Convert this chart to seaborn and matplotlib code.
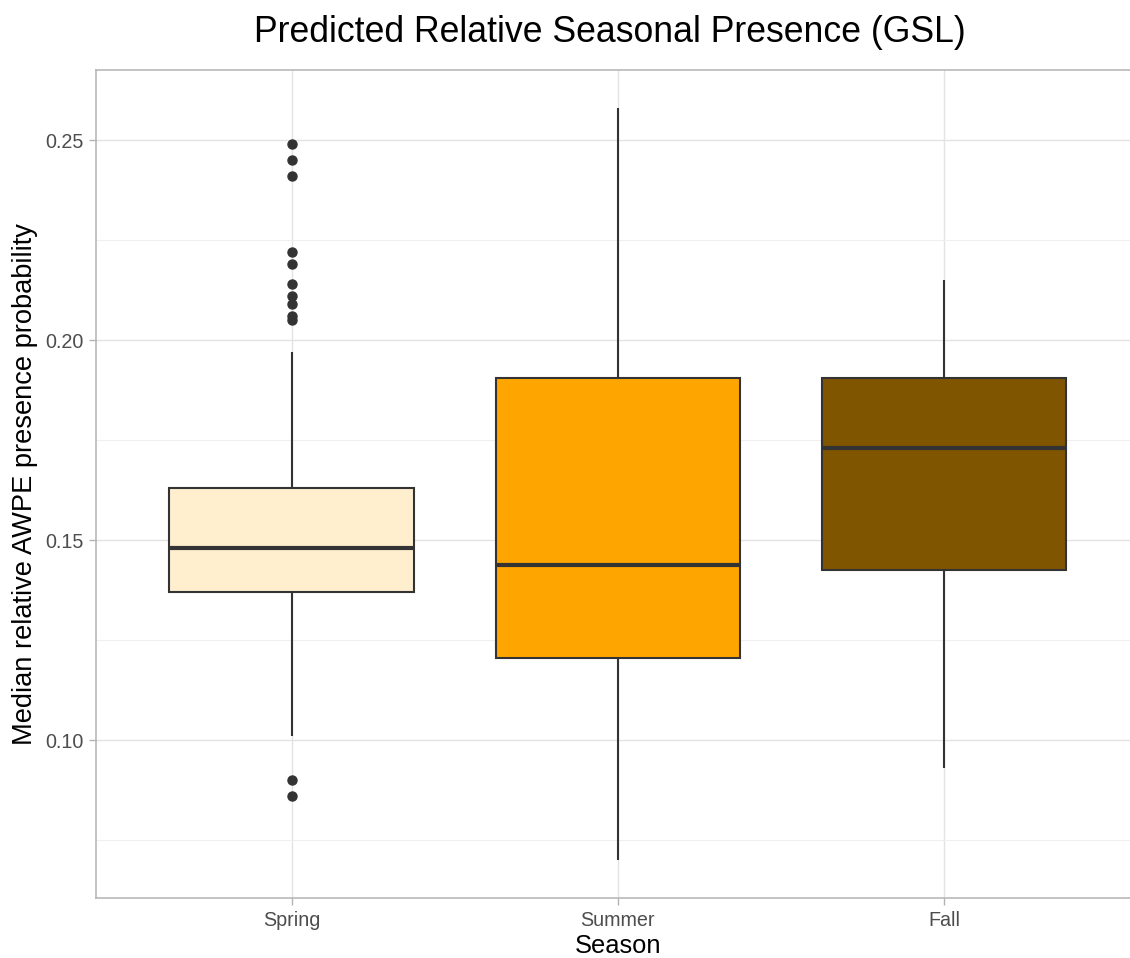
import pandas as pd
import matplotlib
matplotlib.use("Agg")
import matplotlib.pyplot as plt
from matplotlib.ticker import MultipleLocator
import seaborn as sns

# =========================
# DADOS
# =========================
seasons = ["Spring", "Summer", "Fall"]
colors = ["#FFEFCF", "#FFA500", "#7F5500"]

# quartis: q1, mediana, q3
spring_box = [0.137, 0.148, 0.163]
summer_box = [0.1207, 0.1439, 0.1906]
fall_box = [0.1427, 0.1731, 0.1906]

# extremos dos bigodes: inferior, superior
spring_whisk = [0.101, 0.197]
summer_whisk = [0.070, 0.2582]
fall_whisk = [0.093, 0.2151]

# outliers
spring_out = [0.086, 0.090, 0.2052, 0.2061, 0.2090, 0.2111, 0.2140,
              0.2191, 0.2220, 0.2411, 0.2451, 0.2491]
summer_out = []
fall_out = []


def expand(box, whisk, out, reps=20):
    # observações que reproduzem os quartis / bigodes / outliers lidos
    vals = list(out) + list(whisk)
    for v in box:
        vals += [v] * reps
    return vals


rows = []
for name, box, whisk, out in zip(seasons,
                                 [spring_box, summer_box, fall_box],
                                 [spring_whisk, summer_whisk, fall_whisk],
                                 [spring_out, summer_out, fall_out]):
    for v in expand(box, whisk, out):
        rows.append({"Season": name, "value": v})
df = pd.DataFrame(rows)

# =========================
# FIGURA
# =========================
sns.set_theme(style="whitegrid")
plt.rcParams["font.family"] = ["Liberation Sans", "DejaVu Sans"]

W, H = 1130, 958
fig = plt.figure(figsize=(W / 100, H / 100), dpi=100)
ax = fig.add_axes([96 / W, 60 / H, (1139.6 - 96) / W, (898 - 70) / H])

line_c = "#333333"
sns.boxplot(data=df, x="Season", y="value", hue="Season", order=seasons,
            hue_order=seasons, palette=colors, legend=False, width=0.75,
            linewidth=1.5, linecolor=line_c, showcaps=False, saturation=1,
            medianprops={"linewidth": 3.0, "color": line_c},
            flierprops={"marker": "o", "markersize": 6.5,
                        "markerfacecolor": line_c, "markeredgecolor": line_c},
            ax=ax, zorder=3)

ax.set_xlim(-0.6, 2.6)
ax.set_ylim(0.0606, 0.2676)
ax.yaxis.set_major_locator(MultipleLocator(0.05))
ax.yaxis.set_minor_locator(MultipleLocator(0.025))
ax.yaxis.set_major_formatter(matplotlib.ticker.FormatStrFormatter("%.2f"))

ax.set_facecolor("white")
ax.grid(which="major", color="#E3E3E3", linewidth=1.0, zorder=0)
ax.grid(which="minor", axis="y", color="#EFEFEF", linewidth=0.8, zorder=0)
ax.set_axisbelow(True)
for s in ax.spines.values():
    s.set_visible(True)
    s.set_color("#B3B3B3")
    s.set_linewidth(1.1)

ax.tick_params(axis="both", which="major", length=5, width=1.0,
               color="#B3B3B3", labelsize=14.2, labelcolor="#4D4D4D", pad=4,
               left=True, bottom=True)
ax.tick_params(axis="y", which="minor", length=0)

ax.set_title("Predicted Relative Seasonal Presence (GSL)", fontsize=25.7,
             color="black", pad=20, x=0.4925)
ax.set_xlabel("Season", fontsize=18.4, color="black", labelpad=3)
ax.set_ylabel("Median relative AWPE presence probability", fontsize=19.6,
              color="black", labelpad=5)

plt.savefig("out.png", dpi=100)
plt.close()
